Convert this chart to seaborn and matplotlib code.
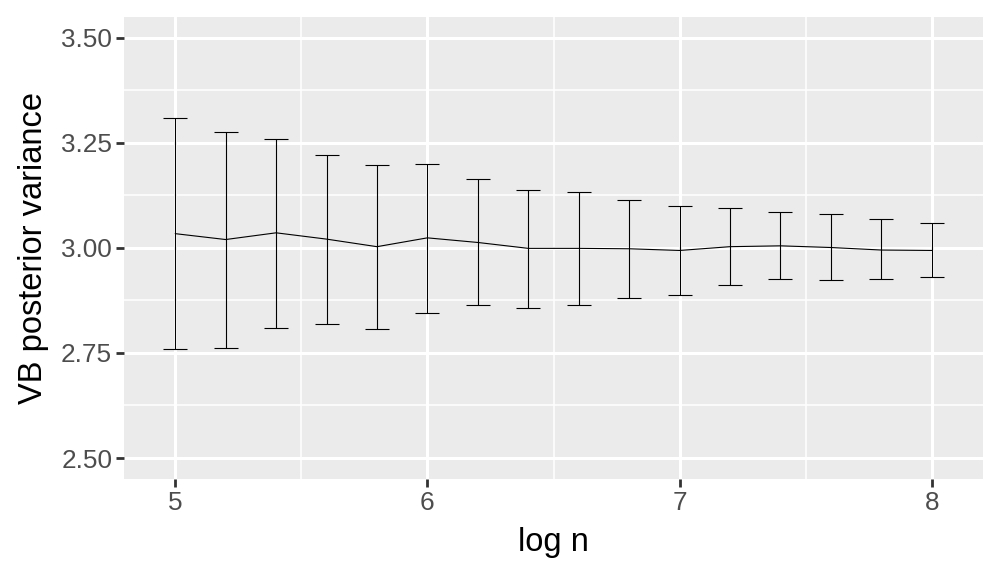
import numpy as np
import pandas as pd
import matplotlib
matplotlib.use("Agg")
import matplotlib.pyplot as plt
import seaborn as sns

# values
log_n = [5.0, 5.2, 5.4, 5.6, 5.8, 6.0, 6.2, 6.4, 6.6, 6.8, 7.0, 7.2, 7.4, 7.6, 7.8, 8.0]
mean_var = [3.034, 3.020, 3.036, 3.021, 3.003, 3.024, 3.013, 2.999,
            2.999, 2.998, 2.994, 3.003, 3.005, 3.001, 2.995, 2.994]
lower = [2.759, 2.763, 2.810, 2.820, 2.807, 2.846, 2.864, 2.857,
         2.865, 2.882, 2.888, 2.911, 2.925, 2.923, 2.925, 2.930]
upper = [3.310, 3.275, 3.260, 3.222, 3.197, 3.200, 3.163, 3.139,
         3.133, 3.115, 3.101, 3.095, 3.086, 3.081, 3.068, 3.059]

y_ticks = [2.50, 2.75, 3.00, 3.25, 3.50]
x_ticks = [5, 6, 7, 8]

df = pd.DataFrame({"log_n": log_n, "mean": mean_var, "lower": lower, "upper": upper})

sns.set_theme(style="darkgrid", rc={
    "axes.facecolor": "#EBEBEB",
    "grid.color": "white",
    "axes.edgecolor": "none",
})
plt.rcParams["font.family"] = ["Liberation Sans", "DejaVu Sans"]

fig = plt.figure(figsize=(10, 5.77), dpi=100)
ax = fig.add_axes([0.124, 0.1698, 0.859, 0.801])

# error bars first, then the mean line
yerr = np.array([df["mean"] - df["lower"], df["upper"] - df["mean"]])
ax.errorbar(df["log_n"], df["mean"], yerr=yerr, fmt="none", ecolor="black",
            elinewidth=0.8, capsize=8.7, capthick=0.8, zorder=3)
sns.lineplot(data=df, x="log_n", y="mean", color="black", linewidth=0.8, ax=ax, zorder=3)

ax.set_xlim(4.797, 8.203)
ax.set_ylim(2.45, 3.55)
ax.set_xticks(x_ticks)
ax.set_yticks(y_ticks)
ax.set_yticklabels([f"{v:.2f}" for v in y_ticks])
ax.set_xticks([5.5, 6.5, 7.5], minor=True)
ax.set_yticks([2.625, 2.875, 3.125, 3.375], minor=True)

ax.grid(which="major", color="white", linewidth=2.2)
ax.grid(which="minor", color="white", linewidth=1.1)
ax.tick_params(which="major", length=5.5, width=2.0, color="#333333",
               labelsize=18.8, labelcolor="#4D4D4D", pad=3)
ax.tick_params(which="minor", length=0)
ax.tick_params(axis="both", which="major", bottom=True, left=True)

ax.set_xlabel("log n", fontsize=23.5, color="black", labelpad=9)
ax.set_ylabel("VB posterior variance", fontsize=23.5, color="black", labelpad=9)

fig.savefig("out.png", dpi=100)
